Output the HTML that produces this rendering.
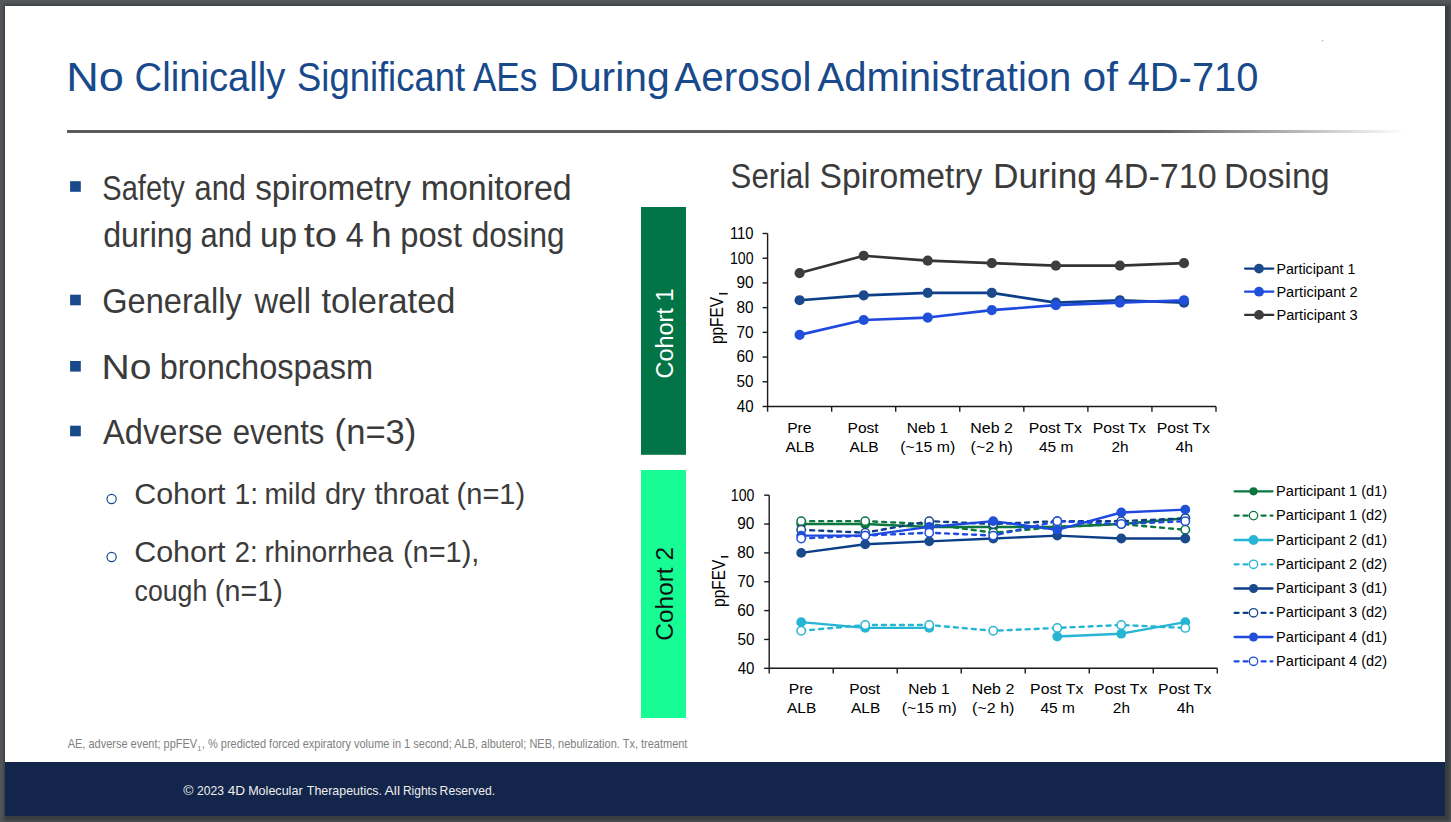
<!DOCTYPE html>
<html><head><meta charset="utf-8"><title>4D-710 Slide</title>
<style>
html,body{margin:0;padding:0;background:#53575a;overflow:hidden;}
svg{display:block;font-family:"Liberation Sans", sans-serif;}
</style></head><body>
<svg width="1451" height="822" viewBox="0 0 1451 822">
<defs>
<filter id="blur" x="-5%" y="-5%" width="110%" height="110%"><feGaussianBlur stdDeviation="1.5"/></filter>
<linearGradient id="rule" x1="0" x2="1" y1="0" y2="0">
<stop offset="0" stop-color="#5c5c5c"/><stop offset="0.817" stop-color="#5e5e5e"/><stop offset="1" stop-color="#5e5e5e" stop-opacity="0"/>
</linearGradient>
</defs>
<rect x="0" y="0" width="1451" height="822" fill="#53575a"/>
<rect x="3.5" y="4.5" width="1446.5" height="816.5" fill="#393c40" filter="url(#blur)"/>
<rect x="5" y="6" width="1440" height="810" fill="#ffffff"/>
<rect x="5" y="762" width="1440" height="54" fill="#13254a"/>
<rect x="1322" y="40" width="1.2" height="1.2" fill="#8fbfa8"/>
<text x="66.18" y="90.9" font-size="41.0" fill="#18498b" textLength="57.66" lengthAdjust="spacingAndGlyphs">No</text>
<text x="134.59" y="90.9" font-size="41.0" fill="#18498b" textLength="150.82" lengthAdjust="spacingAndGlyphs">Clinically</text>
<text x="297.06" y="90.9" font-size="41.0" fill="#18498b" textLength="167.96" lengthAdjust="spacingAndGlyphs">Significant</text>
<text x="472.91" y="90.9" font-size="41.0" fill="#18498b" textLength="64.28" lengthAdjust="spacingAndGlyphs">AEs</text>
<text x="549.43" y="90.9" font-size="41.0" fill="#18498b" textLength="120.26" lengthAdjust="spacingAndGlyphs">During</text>
<text x="674.30" y="90.9" font-size="41.0" fill="#18498b" textLength="137.26" lengthAdjust="spacingAndGlyphs">Aerosol</text>
<text x="817.50" y="90.9" font-size="41.0" fill="#18498b" textLength="253.85" lengthAdjust="spacingAndGlyphs">Administration</text>
<text x="1082.71" y="90.9" font-size="41.0" fill="#18498b" textLength="35.15" lengthAdjust="spacingAndGlyphs">of</text>
<text x="1127.70" y="90.9" font-size="41.0" fill="#18498b" textLength="130.69" lengthAdjust="spacingAndGlyphs">4D-710</text>
<rect x="67" y="130" width="1338" height="3" fill="url(#rule)"/>
<rect x="70.1" y="181.2" width="10.7" height="10.6" fill="#18498b"/>
<text x="102.29" y="200.2" font-size="34.5" fill="#3b3b3b" textLength="82.38" lengthAdjust="spacingAndGlyphs">Safety</text>
<text x="194.49" y="200.2" font-size="34.5" fill="#3b3b3b" textLength="51.47" lengthAdjust="spacingAndGlyphs">and</text>
<text x="255.18" y="200.2" font-size="34.5" fill="#3b3b3b" textLength="155.90" lengthAdjust="spacingAndGlyphs">spirometry</text>
<text x="420.71" y="200.2" font-size="34.5" fill="#3b3b3b" textLength="150.98" lengthAdjust="spacingAndGlyphs">monitored</text>
<text x="103.13" y="246.5" font-size="34.5" fill="#3b3b3b" textLength="89.56" lengthAdjust="spacingAndGlyphs">during</text>
<text x="200.49" y="246.5" font-size="34.5" fill="#3b3b3b" textLength="51.58" lengthAdjust="spacingAndGlyphs">and</text>
<text x="259.93" y="246.5" font-size="34.5" fill="#3b3b3b" textLength="37.19" lengthAdjust="spacingAndGlyphs">up</text>
<text x="303.70" y="246.5" font-size="34.5" fill="#3b3b3b" textLength="33.36" lengthAdjust="spacingAndGlyphs">to</text>
<text x="345.67" y="246.5" font-size="34.5" fill="#3b3b3b" textLength="17.95" lengthAdjust="spacingAndGlyphs">4</text>
<text x="371.33" y="246.5" font-size="34.5" fill="#3b3b3b" textLength="20.40" lengthAdjust="spacingAndGlyphs">h</text>
<text x="400.28" y="246.5" font-size="34.5" fill="#3b3b3b" textLength="61.78" lengthAdjust="spacingAndGlyphs">post</text>
<text x="471.66" y="246.5" font-size="34.5" fill="#3b3b3b" textLength="92.97" lengthAdjust="spacingAndGlyphs">dosing</text>
<rect x="70.1" y="294.7" width="10.7" height="10.6" fill="#18498b"/>
<text x="102.27" y="313.3" font-size="34.5" fill="#3b3b3b" textLength="139.41" lengthAdjust="spacingAndGlyphs">Generally</text>
<text x="254.48" y="313.3" font-size="34.5" fill="#3b3b3b" textLength="56.44" lengthAdjust="spacingAndGlyphs">well</text>
<text x="321.48" y="313.3" font-size="34.5" fill="#3b3b3b" textLength="134.03" lengthAdjust="spacingAndGlyphs">tolerated</text>
<rect x="70.1" y="361.0" width="10.7" height="10.6" fill="#18498b"/>
<text x="101.48" y="379.0" font-size="34.5" fill="#3b3b3b" textLength="49.92" lengthAdjust="spacingAndGlyphs">No</text>
<text x="159.68" y="379.0" font-size="34.5" fill="#3b3b3b" textLength="213.49" lengthAdjust="spacingAndGlyphs">bronchospasm</text>
<rect x="70.1" y="425.7" width="10.7" height="10.6" fill="#18498b"/>
<text x="103.12" y="443.9" font-size="34.5" fill="#3b3b3b" textLength="119.60" lengthAdjust="spacingAndGlyphs">Adverse</text>
<text x="232.68" y="443.9" font-size="34.5" fill="#3b3b3b" textLength="91.68" lengthAdjust="spacingAndGlyphs">events</text>
<text x="334.64" y="443.9" font-size="34.5" fill="#3b3b3b" textLength="81.73" lengthAdjust="spacingAndGlyphs">(n=3)</text>
<circle cx="111.6" cy="499.0" r="4.6" fill="none" stroke="#18498b" stroke-width="1.2"/>
<text x="134.18" y="504.1" font-size="29.6" fill="#3b3b3b" textLength="91.40" lengthAdjust="spacingAndGlyphs">Cohort</text>
<text x="234.48" y="504.1" font-size="29.6" fill="#3b3b3b" textLength="23.62" lengthAdjust="spacingAndGlyphs">1:</text>
<text x="264.40" y="504.1" font-size="29.6" fill="#3b3b3b" textLength="51.69" lengthAdjust="spacingAndGlyphs">mild</text>
<text x="324.97" y="504.1" font-size="29.6" fill="#3b3b3b" textLength="40.28" lengthAdjust="spacingAndGlyphs">dry</text>
<text x="374.57" y="504.1" font-size="29.6" fill="#3b3b3b" textLength="74.14" lengthAdjust="spacingAndGlyphs">throat</text>
<text x="456.59" y="504.1" font-size="29.6" fill="#3b3b3b" textLength="68.55" lengthAdjust="spacingAndGlyphs">(n=1)</text>
<circle cx="111.6" cy="557.0" r="4.6" fill="none" stroke="#18498b" stroke-width="1.2"/>
<text x="134.18" y="562.0" font-size="29.6" fill="#3b3b3b" textLength="91.40" lengthAdjust="spacingAndGlyphs">Cohort</text>
<text x="234.63" y="562.0" font-size="29.6" fill="#3b3b3b" textLength="22.88" lengthAdjust="spacingAndGlyphs">2:</text>
<text x="264.46" y="562.0" font-size="29.6" fill="#3b3b3b" textLength="128.89" lengthAdjust="spacingAndGlyphs">rhinorrhea</text>
<text x="402.89" y="562.0" font-size="29.6" fill="#3b3b3b" textLength="76.53" lengthAdjust="spacingAndGlyphs">(n=1),</text>
<text x="134.57" y="601.2" font-size="29.6" fill="#3b3b3b" textLength="72.66" lengthAdjust="spacingAndGlyphs">cough</text>
<text x="215.01" y="601.2" font-size="29.6" fill="#3b3b3b" textLength="67.71" lengthAdjust="spacingAndGlyphs">(n=1)</text>
<text x="67.67" y="748.1" font-size="11.9" fill="#808080" textLength="129.54" lengthAdjust="spacingAndGlyphs">AE, adverse event; ppFEV</text>
<text x="197.21" y="750.6" font-size="7.5" fill="#808080">1</text>
<text x="201.87" y="748.1" font-size="11.9" fill="#808080" textLength="485.57" lengthAdjust="spacingAndGlyphs">, % predicted forced expiratory volume in 1 second; ALB, albuterol; NEB, nebulization. Tx, treatment</text>
<text x="183.39" y="795.3" font-size="13.4" fill="#eeeeee" textLength="10.21" lengthAdjust="spacingAndGlyphs">©</text>
<text x="196.99" y="795.3" font-size="13.4" fill="#eeeeee" textLength="26.95" lengthAdjust="spacingAndGlyphs">2023</text>
<text x="227.79" y="795.3" font-size="13.4" fill="#eeeeee" textLength="17.36" lengthAdjust="spacingAndGlyphs">4D</text>
<text x="248.16" y="795.3" font-size="13.4" fill="#eeeeee" textLength="54.43" lengthAdjust="spacingAndGlyphs">Molecular</text>
<text x="306.82" y="795.3" font-size="13.4" fill="#eeeeee" textLength="75.21" lengthAdjust="spacingAndGlyphs">Therapeutics.</text>
<text x="384.57" y="795.3" font-size="13.4" fill="#eeeeee" textLength="15.46" lengthAdjust="spacingAndGlyphs">All</text>
<text x="402.91" y="795.3" font-size="13.4" fill="#eeeeee" textLength="34.00" lengthAdjust="spacingAndGlyphs">Rights</text>
<text x="439.60" y="795.3" font-size="13.4" fill="#eeeeee" textLength="55.50" lengthAdjust="spacingAndGlyphs">Reserved.</text>
<text x="730.60" y="188" font-size="35.2" fill="#3b3b3b" textLength="79.79" lengthAdjust="spacingAndGlyphs">Serial</text>
<text x="819.58" y="188" font-size="35.2" fill="#3b3b3b" textLength="162.89" lengthAdjust="spacingAndGlyphs">Spirometry</text>
<text x="992.99" y="188" font-size="35.2" fill="#3b3b3b" textLength="103.95" lengthAdjust="spacingAndGlyphs">During</text>
<text x="1104.83" y="188" font-size="35.2" fill="#3b3b3b" textLength="111.83" lengthAdjust="spacingAndGlyphs">4D-710</text>
<text x="1224.10" y="188" font-size="35.2" fill="#3b3b3b" textLength="105.53" lengthAdjust="spacingAndGlyphs">Dosing</text>
<rect x="641" y="207" width="45" height="247.8" fill="#037445"/>
<rect x="641" y="470" width="45" height="248" fill="#17fc95"/>
<text transform="translate(673,377.3) rotate(-90)" x="-1.17" y="0" font-size="24.6" fill="#ffffff" textLength="89.90" lengthAdjust="spacingAndGlyphs">Cohort 1</text>
<text transform="translate(673,639.5) rotate(-90)" x="-1.22" y="0" font-size="24.6" fill="#111111" textLength="93.76" lengthAdjust="spacingAndGlyphs">Cohort 2</text>
<path d="M767.6,233.5 V406.5 H1216.0" fill="none" stroke="#1a1a1a" stroke-width="1.4"/>
<path d="M762.6,406.50 H767.6" stroke="#1a1a1a" stroke-width="1.4"/>
<text x="736.86" y="411.85" font-size="16.3" fill="#000000" textLength="16.74" lengthAdjust="spacingAndGlyphs">40</text>
<path d="M762.6,381.79 H767.6" stroke="#1a1a1a" stroke-width="1.4"/>
<text x="736.59" y="387.14" font-size="16.3" fill="#000000" textLength="17.02" lengthAdjust="spacingAndGlyphs">50</text>
<path d="M762.6,357.07 H767.6" stroke="#1a1a1a" stroke-width="1.4"/>
<text x="736.43" y="362.42" font-size="16.3" fill="#000000" textLength="17.19" lengthAdjust="spacingAndGlyphs">60</text>
<path d="M762.6,332.36 H767.6" stroke="#1a1a1a" stroke-width="1.4"/>
<text x="736.43" y="337.71" font-size="16.3" fill="#000000" textLength="17.19" lengthAdjust="spacingAndGlyphs">70</text>
<path d="M762.6,307.64 H767.6" stroke="#1a1a1a" stroke-width="1.4"/>
<text x="736.55" y="312.99" font-size="16.3" fill="#000000" textLength="17.06" lengthAdjust="spacingAndGlyphs">80</text>
<path d="M762.6,282.93 H767.6" stroke="#1a1a1a" stroke-width="1.4"/>
<text x="736.47" y="288.28" font-size="16.3" fill="#000000" textLength="17.15" lengthAdjust="spacingAndGlyphs">90</text>
<path d="M762.6,258.21 H767.6" stroke="#1a1a1a" stroke-width="1.4"/>
<text x="730.04" y="263.56" font-size="16.3" fill="#000000" textLength="23.50" lengthAdjust="spacingAndGlyphs">100</text>
<path d="M762.6,233.50 H767.6" stroke="#1a1a1a" stroke-width="1.4"/>
<text x="729.99" y="238.85" font-size="16.3" fill="#000000" textLength="23.59" lengthAdjust="spacingAndGlyphs">110</text>
<path d="M767.60,406.5 V411.7" stroke="#1a1a1a" stroke-width="1.4"/>
<path d="M831.66,406.5 V411.7" stroke="#1a1a1a" stroke-width="1.4"/>
<path d="M895.71,406.5 V411.7" stroke="#1a1a1a" stroke-width="1.4"/>
<path d="M959.77,406.5 V411.7" stroke="#1a1a1a" stroke-width="1.4"/>
<path d="M1023.83,406.5 V411.7" stroke="#1a1a1a" stroke-width="1.4"/>
<path d="M1087.89,406.5 V411.7" stroke="#1a1a1a" stroke-width="1.4"/>
<path d="M1151.94,406.5 V411.7" stroke="#1a1a1a" stroke-width="1.4"/>
<path d="M1216.00,406.5 V411.7" stroke="#1a1a1a" stroke-width="1.4"/>
<text x="787.19" y="433.1" font-size="15.5" fill="#000000" textLength="24.27" lengthAdjust="spacingAndGlyphs">Pre</text>
<text x="785.39" y="451.7" font-size="15.5" fill="#000000" textLength="29.25" lengthAdjust="spacingAndGlyphs">ALB</text>
<text x="847.61" y="433.1" font-size="15.5" fill="#000000" textLength="31.01" lengthAdjust="spacingAndGlyphs">Post</text>
<text x="849.45" y="451.7" font-size="15.5" fill="#000000" textLength="29.25" lengthAdjust="spacingAndGlyphs">ALB</text>
<text x="906.82" y="433.1" font-size="15.5" fill="#000000" textLength="41.33" lengthAdjust="spacingAndGlyphs">Neb 1</text>
<text x="900.25" y="451.7" font-size="15.5" fill="#000000" textLength="54.95" lengthAdjust="spacingAndGlyphs">(~15 m)</text>
<text x="970.29" y="433.1" font-size="15.5" fill="#000000" textLength="42.53" lengthAdjust="spacingAndGlyphs">Neb 2</text>
<text x="970.60" y="451.7" font-size="15.5" fill="#000000" textLength="42.37" lengthAdjust="spacingAndGlyphs">(~2 h)</text>
<text x="1028.71" y="433.1" font-size="15.5" fill="#000000" textLength="53.19" lengthAdjust="spacingAndGlyphs">Post Tx</text>
<text x="1039.01" y="451.7" font-size="15.5" fill="#000000" textLength="34.36" lengthAdjust="spacingAndGlyphs">45 m</text>
<text x="1092.76" y="433.1" font-size="15.5" fill="#000000" textLength="53.19" lengthAdjust="spacingAndGlyphs">Post Tx</text>
<text x="1111.50" y="451.7" font-size="15.5" fill="#000000" textLength="17.06" lengthAdjust="spacingAndGlyphs">2h</text>
<text x="1156.82" y="433.1" font-size="15.5" fill="#000000" textLength="53.19" lengthAdjust="spacingAndGlyphs">Post Tx</text>
<text x="1175.52" y="451.7" font-size="15.5" fill="#000000" textLength="17.58" lengthAdjust="spacingAndGlyphs">4h</text>
<text transform="translate(723.2,343.1) rotate(-90)" x="-1.01" y="0" font-size="18.75" fill="#000000" textLength="47.28" lengthAdjust="spacingAndGlyphs">ppFEV</text>
<rect x="719" y="292.9" width="8.70" height="1.6" fill="#111"/>
<path d="M799.63,300.23 L863.69,295.29 L927.74,292.81 L991.80,292.81 L1055.86,302.70 L1119.91,300.23 L1183.97,302.70" fill="none" stroke="#0d3f88" stroke-width="2.7" stroke-linejoin="round"/>
<circle cx="799.63" cy="300.23" r="5.1" fill="#1a4a8c"/>
<circle cx="863.69" cy="295.29" r="5.1" fill="#1a4a8c"/>
<circle cx="927.74" cy="292.81" r="5.1" fill="#1a4a8c"/>
<circle cx="991.80" cy="292.81" r="5.1" fill="#1a4a8c"/>
<circle cx="1055.86" cy="302.70" r="5.1" fill="#1a4a8c"/>
<circle cx="1119.91" cy="300.23" r="5.1" fill="#1a4a8c"/>
<circle cx="1183.97" cy="302.70" r="5.1" fill="#1a4a8c"/>
<path d="M799.63,334.83 L863.69,320.00 L927.74,317.53 L991.80,310.11 L1055.86,305.17 L1119.91,302.70 L1183.97,300.23" fill="none" stroke="#1e48e0" stroke-width="2.7" stroke-linejoin="round"/>
<circle cx="799.63" cy="334.83" r="5.1" fill="#2150d8"/>
<circle cx="863.69" cy="320.00" r="5.1" fill="#2150d8"/>
<circle cx="927.74" cy="317.53" r="5.1" fill="#2150d8"/>
<circle cx="991.80" cy="310.11" r="5.1" fill="#2150d8"/>
<circle cx="1055.86" cy="305.17" r="5.1" fill="#2150d8"/>
<circle cx="1119.91" cy="302.70" r="5.1" fill="#2150d8"/>
<circle cx="1183.97" cy="300.23" r="5.1" fill="#2150d8"/>
<path d="M799.63,273.04 L863.69,255.74 L927.74,260.69 L991.80,263.16 L1055.86,265.63 L1119.91,265.63 L1183.97,263.16" fill="none" stroke="#333333" stroke-width="2.7" stroke-linejoin="round"/>
<circle cx="799.63" cy="273.04" r="5.1" fill="#3d3d3d"/>
<circle cx="863.69" cy="255.74" r="5.1" fill="#3d3d3d"/>
<circle cx="927.74" cy="260.69" r="5.1" fill="#3d3d3d"/>
<circle cx="991.80" cy="263.16" r="5.1" fill="#3d3d3d"/>
<circle cx="1055.86" cy="265.63" r="5.1" fill="#3d3d3d"/>
<circle cx="1119.91" cy="265.63" r="5.1" fill="#3d3d3d"/>
<circle cx="1183.97" cy="263.16" r="5.1" fill="#3d3d3d"/>
<path d="M1245.1,268.6 H1273.3000000000002" stroke="#0d3f88" stroke-width="2.3" stroke-linecap="round"/>
<circle cx="1259" cy="268.6" r="4.9" fill="#1a4a8c"/>
<text x="1276.43" y="274.00" font-size="14.9" fill="#000000" textLength="78.86" lengthAdjust="spacingAndGlyphs">Participant 1</text>
<path d="M1245.1,291.7 H1273.3000000000002" stroke="#1e48e0" stroke-width="2.3" stroke-linecap="round"/>
<circle cx="1259" cy="291.7" r="4.9" fill="#2150d8"/>
<text x="1276.39" y="297.10" font-size="14.9" fill="#000000" textLength="81.26" lengthAdjust="spacingAndGlyphs">Participant 2</text>
<path d="M1245.1,314.9 H1273.3000000000002" stroke="#333333" stroke-width="2.3" stroke-linecap="round"/>
<circle cx="1259" cy="314.9" r="4.9" fill="#3d3d3d"/>
<text x="1276.40" y="320.30" font-size="14.9" fill="#000000" textLength="81.14" lengthAdjust="spacingAndGlyphs">Participant 3</text>
<path d="M769.2,495.2 V668.3 H1217.3" fill="none" stroke="#1a1a1a" stroke-width="1.4"/>
<path d="M764.2,668.30 H769.2" stroke="#1a1a1a" stroke-width="1.4"/>
<text x="737.66" y="673.65" font-size="16.3" fill="#000000" textLength="16.74" lengthAdjust="spacingAndGlyphs">40</text>
<path d="M764.2,639.45 H769.2" stroke="#1a1a1a" stroke-width="1.4"/>
<text x="737.39" y="644.80" font-size="16.3" fill="#000000" textLength="17.02" lengthAdjust="spacingAndGlyphs">50</text>
<path d="M764.2,610.60 H769.2" stroke="#1a1a1a" stroke-width="1.4"/>
<text x="737.23" y="615.95" font-size="16.3" fill="#000000" textLength="17.19" lengthAdjust="spacingAndGlyphs">60</text>
<path d="M764.2,581.75 H769.2" stroke="#1a1a1a" stroke-width="1.4"/>
<text x="737.23" y="587.10" font-size="16.3" fill="#000000" textLength="17.19" lengthAdjust="spacingAndGlyphs">70</text>
<path d="M764.2,552.90 H769.2" stroke="#1a1a1a" stroke-width="1.4"/>
<text x="737.35" y="558.25" font-size="16.3" fill="#000000" textLength="17.06" lengthAdjust="spacingAndGlyphs">80</text>
<path d="M764.2,524.05 H769.2" stroke="#1a1a1a" stroke-width="1.4"/>
<text x="737.27" y="529.40" font-size="16.3" fill="#000000" textLength="17.15" lengthAdjust="spacingAndGlyphs">90</text>
<path d="M764.2,495.20 H769.2" stroke="#1a1a1a" stroke-width="1.4"/>
<text x="730.84" y="500.55" font-size="16.3" fill="#000000" textLength="23.50" lengthAdjust="spacingAndGlyphs">100</text>
<path d="M769.20,668.3 V673.5" stroke="#1a1a1a" stroke-width="1.4"/>
<path d="M833.21,668.3 V673.5" stroke="#1a1a1a" stroke-width="1.4"/>
<path d="M897.23,668.3 V673.5" stroke="#1a1a1a" stroke-width="1.4"/>
<path d="M961.24,668.3 V673.5" stroke="#1a1a1a" stroke-width="1.4"/>
<path d="M1025.26,668.3 V673.5" stroke="#1a1a1a" stroke-width="1.4"/>
<path d="M1089.27,668.3 V673.5" stroke="#1a1a1a" stroke-width="1.4"/>
<path d="M1153.29,668.3 V673.5" stroke="#1a1a1a" stroke-width="1.4"/>
<path d="M1217.30,668.3 V673.5" stroke="#1a1a1a" stroke-width="1.4"/>
<text x="788.77" y="693.8" font-size="15.5" fill="#000000" textLength="24.27" lengthAdjust="spacingAndGlyphs">Pre</text>
<text x="786.97" y="712.7" font-size="15.5" fill="#000000" textLength="29.25" lengthAdjust="spacingAndGlyphs">ALB</text>
<text x="849.14" y="693.8" font-size="15.5" fill="#000000" textLength="31.01" lengthAdjust="spacingAndGlyphs">Post</text>
<text x="850.98" y="712.7" font-size="15.5" fill="#000000" textLength="29.25" lengthAdjust="spacingAndGlyphs">ALB</text>
<text x="908.31" y="693.8" font-size="15.5" fill="#000000" textLength="41.33" lengthAdjust="spacingAndGlyphs">Neb 1</text>
<text x="901.75" y="712.7" font-size="15.5" fill="#000000" textLength="54.95" lengthAdjust="spacingAndGlyphs">(~15 m)</text>
<text x="971.74" y="693.8" font-size="15.5" fill="#000000" textLength="42.53" lengthAdjust="spacingAndGlyphs">Neb 2</text>
<text x="972.05" y="712.7" font-size="15.5" fill="#000000" textLength="42.37" lengthAdjust="spacingAndGlyphs">(~2 h)</text>
<text x="1030.11" y="693.8" font-size="15.5" fill="#000000" textLength="53.19" lengthAdjust="spacingAndGlyphs">Post Tx</text>
<text x="1040.42" y="712.7" font-size="15.5" fill="#000000" textLength="34.36" lengthAdjust="spacingAndGlyphs">45 m</text>
<text x="1094.13" y="693.8" font-size="15.5" fill="#000000" textLength="53.19" lengthAdjust="spacingAndGlyphs">Post Tx</text>
<text x="1112.86" y="712.7" font-size="15.5" fill="#000000" textLength="17.06" lengthAdjust="spacingAndGlyphs">2h</text>
<text x="1158.14" y="693.8" font-size="15.5" fill="#000000" textLength="53.19" lengthAdjust="spacingAndGlyphs">Post Tx</text>
<text x="1176.84" y="712.7" font-size="15.5" fill="#000000" textLength="17.58" lengthAdjust="spacingAndGlyphs">4h</text>
<text transform="translate(724.8,605.9) rotate(-90)" x="-1.00" y="0" font-size="18.75" fill="#000000" textLength="47.07" lengthAdjust="spacingAndGlyphs">ppFEV</text>
<rect x="721" y="556.0" width="7.40" height="1.6" fill="#111"/>
<path d="M801.21,524.05 L865.22,524.05 L929.24,526.93 L993.25,526.93 L1057.26,526.93 L1121.28,524.05 L1185.29,518.28" fill="none" stroke="#0b763e" stroke-width="2.4" stroke-linejoin="round"/>
<circle cx="801.21" cy="524.05" r="4.9" fill="#0b763e"/>
<circle cx="865.22" cy="524.05" r="4.9" fill="#0b763e"/>
<circle cx="929.24" cy="526.93" r="4.9" fill="#0b763e"/>
<circle cx="993.25" cy="526.93" r="4.9" fill="#0b763e"/>
<circle cx="1057.26" cy="526.93" r="4.9" fill="#0b763e"/>
<circle cx="1121.28" cy="524.05" r="4.9" fill="#0b763e"/>
<circle cx="1185.29" cy="518.28" r="4.9" fill="#0b763e"/>
<path d="M801.21,521.16 L865.22,521.16 L929.24,524.05 L993.25,532.70 L1057.26,526.93 L1121.28,524.05 L1185.29,529.82" fill="none" stroke="#0b763e" stroke-width="2.4" stroke-dasharray="4,5" stroke-linecap="round" stroke-linejoin="round"/>
<circle cx="801.21" cy="521.16" r="4.2" fill="#fff" stroke="#0b763e" stroke-width="1.5"/>
<circle cx="865.22" cy="521.16" r="4.2" fill="#fff" stroke="#0b763e" stroke-width="1.5"/>
<circle cx="929.24" cy="524.05" r="4.2" fill="#fff" stroke="#0b763e" stroke-width="1.5"/>
<circle cx="993.25" cy="532.70" r="4.2" fill="#fff" stroke="#0b763e" stroke-width="1.5"/>
<circle cx="1057.26" cy="526.93" r="4.2" fill="#fff" stroke="#0b763e" stroke-width="1.5"/>
<circle cx="1121.28" cy="524.05" r="4.2" fill="#fff" stroke="#0b763e" stroke-width="1.5"/>
<circle cx="1185.29" cy="529.82" r="4.2" fill="#fff" stroke="#0b763e" stroke-width="1.5"/>
<path d="M801.21,622.14 L865.22,627.91 L929.24,627.91" fill="none" stroke="#27b5d4" stroke-width="2.4" stroke-linejoin="round"/>
<path d="M1057.26,636.56 L1121.28,633.68 L1185.29,622.14" fill="none" stroke="#27b5d4" stroke-width="2.4" stroke-linejoin="round"/>
<circle cx="801.21" cy="622.14" r="4.9" fill="#27b5d4"/>
<circle cx="865.22" cy="627.91" r="4.9" fill="#27b5d4"/>
<circle cx="929.24" cy="627.91" r="4.9" fill="#27b5d4"/>
<circle cx="1057.26" cy="636.56" r="4.9" fill="#27b5d4"/>
<circle cx="1121.28" cy="633.68" r="4.9" fill="#27b5d4"/>
<circle cx="1185.29" cy="622.14" r="4.9" fill="#27b5d4"/>
<path d="M801.21,630.79 L865.22,625.02 L929.24,625.02 L993.25,630.79 L1057.26,627.91 L1121.28,625.02 L1185.29,627.91" fill="none" stroke="#27b5d4" stroke-width="2.4" stroke-dasharray="4,5" stroke-linecap="round" stroke-linejoin="round"/>
<circle cx="801.21" cy="630.79" r="4.2" fill="#fff" stroke="#27b5d4" stroke-width="1.5"/>
<circle cx="865.22" cy="625.02" r="4.2" fill="#fff" stroke="#27b5d4" stroke-width="1.5"/>
<circle cx="929.24" cy="625.02" r="4.2" fill="#fff" stroke="#27b5d4" stroke-width="1.5"/>
<circle cx="993.25" cy="630.79" r="4.2" fill="#fff" stroke="#27b5d4" stroke-width="1.5"/>
<circle cx="1057.26" cy="627.91" r="4.2" fill="#fff" stroke="#27b5d4" stroke-width="1.5"/>
<circle cx="1121.28" cy="625.02" r="4.2" fill="#fff" stroke="#27b5d4" stroke-width="1.5"/>
<circle cx="1185.29" cy="627.91" r="4.2" fill="#fff" stroke="#27b5d4" stroke-width="1.5"/>
<path d="M801.21,552.90 L865.22,544.25 L929.24,541.36 L993.25,538.48 L1057.26,535.59 L1121.28,538.48 L1185.29,538.48" fill="none" stroke="#0d3f88" stroke-width="2.4" stroke-linejoin="round"/>
<circle cx="801.21" cy="552.90" r="4.9" fill="#1a4a8c"/>
<circle cx="865.22" cy="544.25" r="4.9" fill="#1a4a8c"/>
<circle cx="929.24" cy="541.36" r="4.9" fill="#1a4a8c"/>
<circle cx="993.25" cy="538.48" r="4.9" fill="#1a4a8c"/>
<circle cx="1057.26" cy="535.59" r="4.9" fill="#1a4a8c"/>
<circle cx="1121.28" cy="538.48" r="4.9" fill="#1a4a8c"/>
<circle cx="1185.29" cy="538.48" r="4.9" fill="#1a4a8c"/>
<path d="M801.21,529.82 L865.22,532.70 L929.24,521.16 L993.25,524.05 L1057.26,521.16 L1121.28,521.16 L1185.29,518.28" fill="none" stroke="#0d3f88" stroke-width="2.4" stroke-dasharray="4,5" stroke-linecap="round" stroke-linejoin="round"/>
<circle cx="801.21" cy="529.82" r="4.2" fill="#fff" stroke="#1a4a8c" stroke-width="1.5"/>
<circle cx="865.22" cy="532.70" r="4.2" fill="#fff" stroke="#1a4a8c" stroke-width="1.5"/>
<circle cx="929.24" cy="521.16" r="4.2" fill="#fff" stroke="#1a4a8c" stroke-width="1.5"/>
<circle cx="993.25" cy="524.05" r="4.2" fill="#fff" stroke="#1a4a8c" stroke-width="1.5"/>
<circle cx="1057.26" cy="521.16" r="4.2" fill="#fff" stroke="#1a4a8c" stroke-width="1.5"/>
<circle cx="1121.28" cy="521.16" r="4.2" fill="#fff" stroke="#1a4a8c" stroke-width="1.5"/>
<circle cx="1185.29" cy="518.28" r="4.2" fill="#fff" stroke="#1a4a8c" stroke-width="1.5"/>
<path d="M801.21,535.59 L865.22,535.59 L929.24,526.93 L993.25,521.16 L1057.26,529.82 L1121.28,512.51 L1185.29,509.62" fill="none" stroke="#1e48e0" stroke-width="2.4" stroke-linejoin="round"/>
<circle cx="801.21" cy="535.59" r="4.9" fill="#2150d8"/>
<circle cx="865.22" cy="535.59" r="4.9" fill="#2150d8"/>
<circle cx="929.24" cy="526.93" r="4.9" fill="#2150d8"/>
<circle cx="993.25" cy="521.16" r="4.9" fill="#2150d8"/>
<circle cx="1057.26" cy="529.82" r="4.9" fill="#2150d8"/>
<circle cx="1121.28" cy="512.51" r="4.9" fill="#2150d8"/>
<circle cx="1185.29" cy="509.62" r="4.9" fill="#2150d8"/>
<path d="M801.21,538.48 L865.22,535.59 L929.24,532.70 L993.25,535.59 L1057.26,521.16 L1121.28,524.05 L1185.29,521.16" fill="none" stroke="#1e48e0" stroke-width="2.4" stroke-dasharray="4,5" stroke-linecap="round" stroke-linejoin="round"/>
<circle cx="801.21" cy="538.48" r="4.2" fill="#fff" stroke="#2150d8" stroke-width="1.5"/>
<circle cx="865.22" cy="535.59" r="4.2" fill="#fff" stroke="#2150d8" stroke-width="1.5"/>
<circle cx="929.24" cy="532.70" r="4.2" fill="#fff" stroke="#2150d8" stroke-width="1.5"/>
<circle cx="993.25" cy="535.59" r="4.2" fill="#fff" stroke="#2150d8" stroke-width="1.5"/>
<circle cx="1057.26" cy="521.16" r="4.2" fill="#fff" stroke="#2150d8" stroke-width="1.5"/>
<circle cx="1121.28" cy="524.05" r="4.2" fill="#fff" stroke="#2150d8" stroke-width="1.5"/>
<circle cx="1185.29" cy="521.16" r="4.2" fill="#fff" stroke="#2150d8" stroke-width="1.5"/>
<path d="M1234.6,491.3 H1272.5" stroke="#0b763e" stroke-width="2.3" stroke-linecap="round"/>
<circle cx="1253.5" cy="491.3" r="4.1" fill="#0b763e"/>
<text x="1276.10" y="495.90" font-size="14.9" fill="#000000" textLength="110.98" lengthAdjust="spacingAndGlyphs">Participant 1 (d1)</text>
<path d="M1234.6,515.6 H1272.5" stroke="#0b763e" stroke-width="2.3" stroke-linecap="round" stroke-dasharray="4,5"/>
<circle cx="1253.5" cy="515.6" r="4.2" fill="#fff" stroke="#0b763e" stroke-width="1.3"/>
<text x="1276.10" y="520.20" font-size="14.9" fill="#000000" textLength="110.98" lengthAdjust="spacingAndGlyphs">Participant 1 (d2)</text>
<path d="M1234.6,540.0 H1272.5" stroke="#27b5d4" stroke-width="2.3" stroke-linecap="round"/>
<circle cx="1253.5" cy="540.0" r="4.9" fill="#27b5d4"/>
<text x="1276.10" y="544.60" font-size="14.9" fill="#000000" textLength="110.98" lengthAdjust="spacingAndGlyphs">Participant 2 (d1)</text>
<path d="M1234.6,564.3 H1272.5" stroke="#27b5d4" stroke-width="2.3" stroke-linecap="round" stroke-dasharray="4,5"/>
<circle cx="1253.5" cy="564.3" r="4.2" fill="#fff" stroke="#27b5d4" stroke-width="1.3"/>
<text x="1276.10" y="568.90" font-size="14.9" fill="#000000" textLength="110.98" lengthAdjust="spacingAndGlyphs">Participant 2 (d2)</text>
<path d="M1234.6,588.5 H1272.5" stroke="#0d3f88" stroke-width="2.3" stroke-linecap="round"/>
<circle cx="1253.5" cy="588.5" r="4.5" fill="#1a4a8c"/>
<text x="1276.10" y="593.10" font-size="14.9" fill="#000000" textLength="110.98" lengthAdjust="spacingAndGlyphs">Participant 3 (d1)</text>
<path d="M1234.6,612.8 H1272.5" stroke="#0d3f88" stroke-width="2.3" stroke-linecap="round" stroke-dasharray="4,5"/>
<circle cx="1253.5" cy="612.8" r="4.2" fill="#fff" stroke="#1a4a8c" stroke-width="1.3"/>
<text x="1276.10" y="617.40" font-size="14.9" fill="#000000" textLength="110.98" lengthAdjust="spacingAndGlyphs">Participant 3 (d2)</text>
<path d="M1234.6,637.0 H1272.5" stroke="#1e48e0" stroke-width="2.3" stroke-linecap="round"/>
<circle cx="1253.5" cy="637.0" r="4.5" fill="#2150d8"/>
<text x="1276.10" y="641.60" font-size="14.9" fill="#000000" textLength="110.98" lengthAdjust="spacingAndGlyphs">Participant 4 (d1)</text>
<path d="M1234.6,661.3 H1272.5" stroke="#1e48e0" stroke-width="2.3" stroke-linecap="round" stroke-dasharray="4,5"/>
<circle cx="1253.5" cy="661.3" r="4.2" fill="#fff" stroke="#2150d8" stroke-width="1.3"/>
<text x="1276.10" y="665.90" font-size="14.9" fill="#000000" textLength="110.98" lengthAdjust="spacingAndGlyphs">Participant 4 (d2)</text>
</svg>
</body></html>
